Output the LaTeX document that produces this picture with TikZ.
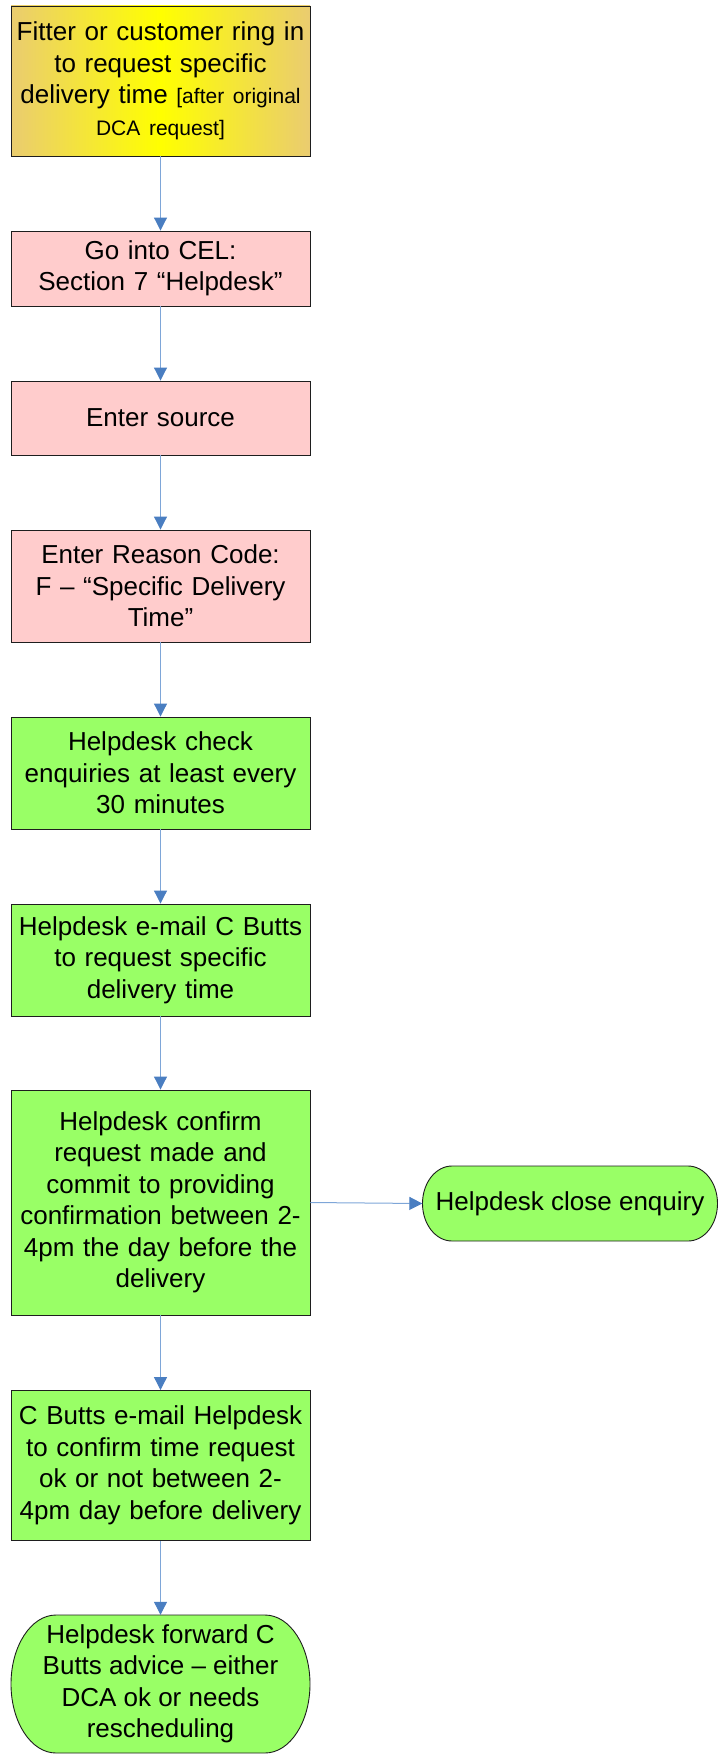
\documentclass[tikz,border=0pt]{standalone}
\usepackage{fontspec}
\setmainfont{Liberation Sans}
\usetikzlibrary{arrows.meta,calc}
\definecolor{pinkfill}{RGB}{255,204,204}
\definecolor{greenfill}{RGB}{153,255,102}
\definecolor{goldedge}{RGB}{234,204,112}
\definecolor{linkline}{RGB}{126,166,216}
\definecolor{linktip}{RGB}{74,126,193}
\definecolor{edgegray}{RGB}{30,30,30}
\tikzset{
  box/.style={draw=edgegray, line width=0.9pt, minimum width=299pt, inner sep=2pt,
    align=center, font=\fontsize{26}{31.5}\selectfont, text width=292pt},
  pinkbox/.style={box, fill=pinkfill},
  greenbox/.style={box, fill=greenfill},
  goldbox/.style={box, left color=goldedge, right color=goldedge, middle color=yellow},
  termtext/.style={align=center, font=\fontsize{26}{31.5}\selectfont, inner sep=0pt},
  term/.style={draw=edgegray, line width=0.9pt, fill=greenfill},
  link/.style={draw=linkline, line width=1pt,
    -{Triangle[length=13pt, width=13pt, color=linktip]}}
}
\begin{document}
\begin{tikzpicture}[x=1pt,y=-1pt]
\useasboundingbox (0,0) rectangle (718,1758);
\node[goldbox, minimum height=150pt] (b1) at (160.5,81)
  {Fitter or customer ring in\\to request specific\\delivery time {\fontsize{21}{31.5}\selectfont [after original}\\{\fontsize{21}{25}\selectfont DCA request]}};
\node[pinkbox, minimum height=75pt] (b2) at (160.5,268.5)
  {Go into CEL:\\Section 7 “Helpdesk”};
\node[pinkbox, minimum height=74pt] (b3) at (160.5,418)
  {Enter source};
\node[pinkbox, minimum height=112pt] (b4) at (160.5,586)
  {Enter Reason Code:\\F – “Specific Delivery\\Time”};
\node[greenbox, minimum height=112pt] (b5) at (160.5,773)
  {Helpdesk check\\enquiries at least every\\30 minutes};
\node[greenbox, minimum height=112pt] (b6) at (160.5,960)
  {Helpdesk e-mail C Butts\\to request specific\\delivery time};
\node[greenbox, minimum height=225pt] (b7) at (160.5,1202.5)
  {Helpdesk confirm\\request made and\\commit to providing\\confirmation between 2-\\4pm the day before the\\delivery};
\node[greenbox, minimum height=150pt] (b8) at (160.5,1465.5)
  {C Butts e-mail Helpdesk\\to confirm time request\\ok or not between 2-\\4pm day before delivery};
% final terminator
\draw[term] (56,1615) -- (265,1615)
  arc[start angle=-90, end angle=90, x radius=45, y radius=69] -- (56,1753)
  arc[start angle=90, end angle=270, x radius=45, y radius=69] -- cycle;
\node[termtext, minimum width=299pt, minimum height=138pt] (b9) at (160.5,1684)
  {Helpdesk forward C\\Butts advice – either\\DCA ok or needs\\rescheduling};
% side terminator
\draw[term] (452,1166) -- (688,1166)
  arc[start angle=-90, end angle=90, x radius=29.5, y radius=37.5] -- (452,1241)
  arc[start angle=90, end angle=270, x radius=29.5, y radius=37.5] -- cycle;
\node[termtext, minimum width=295pt, minimum height=75pt] (s1) at (570,1203.5)
  {Helpdesk close enquiry};
% connectors
\draw[link] (b1.south) -- (b2.north);
\draw[link] (b2.south) -- (b3.north);
\draw[link] (b3.south) -- (b4.north);
\draw[link] (b4.south) -- (b5.north);
\draw[link] (b5.south) -- (b6.north);
\draw[link] (b6.south) -- (b7.north);
\draw[link] (b7.south) -- (b8.north);
\draw[link] (b8.south) -- (b9.north);
\draw[link] (b7.east) -- (s1.west);
\end{tikzpicture}
\end{document}
